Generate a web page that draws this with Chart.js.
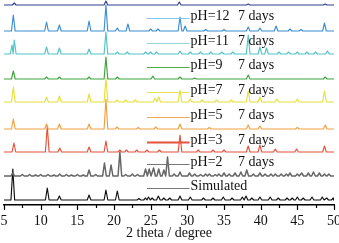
<!DOCTYPE html>
<html>
<head>
<meta charset="utf-8">
<script src="https://cdn.jsdelivr.net/npm/chart.js@4.4.1/dist/chart.umd.min.js"></script>
<style>
  html, body { margin: 0; padding: 0; background: #fff; }
  #wrap { width: 339px; height: 243px; }
</style>
</head>
<body>
<div id="wrap"><canvas id="xrdChart"></canvas></div>
<script>
// Trace names, top to bottom (the top navy trace has no legend entry)
const traceNames = ["", "pH=12", "pH=11", "pH=9", "pH=7", "pH=5", "pH=3", "pH=2", "Simulated"];
const traceDays = ["", "7 days", "7 days", "7 days", "7 days", "7 days", "7 days", "7 days", ""];
// Vertical stacking offset of each trace (arbitrary intensity units)
const traceOffsets = [200, 174, 151, 126, 103, 76, 53, 29, 5];

// Peaks: [2 theta, height above the trace baseline]
const peaksTop = [[6.4, 2], [18.9, 4], [28.9, 3], [38.3, 1], [48.8, 1]];
const peaksPH12 = [[6.27, 16], [10.8, 9], [12.55, 6], [16.6, 10], [18.9, 26], [20.45, 3], [21.9, 7],
  [25.0, 2], [26.0, 2], [29.0, 14], [29.7, 5], [32.5, 1.5], [35.0, 1.5], [38.3, 4], [39.9, 3],
  [42.1, 5], [44.0, 2], [45.5, 1.5], [48.7, 8]];
const peaksPH11 = [[6.1, 9], [6.4, 14], [10.8, 7], [12.55, 6], [16.6, 5], [18.9, 22], [20.45, 2],
  [21.8, 2], [24.3, 2], [25.0, 2], [25.8, 2], [29.0, 3], [30.4, 2], [31.8, 2], [33.2, 2], [34.7, 2],
  [36.2, 2], [38.3, 19], [39.9, 7], [40.8, 6], [42.5, 2], [43.8, 2], [45.0, 2], [46.3, 2], [47.5, 2], [49.1, 3]];
const peaksPH9 = [[6.27, 8], [10.8, 2], [12.55, 2], [16.6, 2], [18.9, 22], [20.45, 2], [25.3, 3],
  [29.0, 2], [31.0, 1], [38.3, 4], [48.8, 2]];
const peaksPH7 = [[6.27, 15], [10.8, 5], [12.55, 6], [16.6, 8], [18.9, 24], [20.4, 2], [21.6, 2],
  [22.9, 2], [25.6, 4], [26.1, 5], [29.0, 12], [30.4, 3], [32.0, 2], [34.0, 2], [36.0, 2],
  [38.3, 11], [39.9, 5], [42.2, 3], [45.0, 3], [48.7, 11]];
const peaksPH5 = [[6.27, 10], [10.8, 5], [12.55, 5], [16.6, 5], [18.9, 30], [20.4, 2], [23.3, 1.5],
  [25.7, 2], [29.0, 5], [33.0, 1.5], [38.3, 4], [39.9, 3], [45.0, 1.5], [48.8, 4]];
const peaksPH3 = [[6.35, 9], [10.9, 26], [12.6, 4], [16.6, 5], [18.9, 11], [20.8, 2], [21.7, 2],
  [23.1, 2], [24.5, 2], [26.2, 2], [29.0, 17], [31.5, 2], [33.5, 2], [35.0, 2], [38.3, 6],
  [39.9, 7], [42.0, 3], [44.9, 3], [48.7, 6]];
const peaksPH2 = [[6.2, 3], [7.5, 1.5], [8.5, 1.5], [9.3, 1], [10.0, 1.5], [11.0, 1.5], [11.8, 1],
  [12.6, 2], [13.5, 1.5], [14.2, 1], [15.0, 1.5], [15.8, 1], [16.6, 6], [17.5, 1.5], [18.7, 13],
  [19.6, 11], [20.8, 24], [21.6, 1.5], [22.5, 2], [23.2, 1.5], [24.3, 7], [24.8, 7], [25.4, 8],
  [26.1, 7], [26.8, 6], [27.3, 19], [28.2, 2], [29.0, 4], [30.3, 3], [31.0, 2], [31.8, 1.5],
  [32.5, 2], [33.0, 2], [33.8, 1.5], [34.3, 2], [35.0, 3], [35.7, 2], [36.5, 3], [37.3, 4],
  [38.1, 6], [39.0, 2], [39.9, 3], [40.6, 2], [41.4, 2], [42.0, 2], [42.8, 2], [43.5, 2],
  [44.0, 3], [45.0, 2], [45.6, 3], [46.5, 3], [47.2, 4], [48.0, 3], [48.7, 2], [49.3, 2]];
const peaksSim = [[6.2, 31], [10.9, 12], [12.55, 4], [16.6, 5], [18.9, 10], [20.45, 9], [23.4, 1.5],
  [24.3, 2], [24.7, 3], [25.2, 2], [26.05, 4], [26.8, 2], [27.6, 2], [29.0, 4], [30.4, 3], [32.2, 2],
  [33.5, 2], [34.9, 3], [36.1, 2], [37.5, 3], [38.0, 4], [38.8, 2], [39.9, 3], [41.3, 3], [42.4, 2],
  [43.6, 2], [44.3, 2], [45.0, 3], [45.8, 2], [47.0, 3], [48.4, 3], [49.0, 2], [49.9, 2]];

const tracePeaks = [peaksTop, peaksPH12, peaksPH11, peaksPH9, peaksPH7, peaksPH5, peaksPH3, peaksPH2, peaksSim];
const xTicks = [5, 10, 15, 20, 25, 30, 35, 40, 45, 50];

const traceColors = ['#2f3d8f', '#3b8ed2', '#52c3c6', '#3da43c', '#e5e03a', '#f2a03e', '#e4533a', '#666666', '#111111'];
const legendColors = ['', '#7cc8ee', '#8fd6d8', '#4cae44', '#e8e24a', '#f0a850', '#e4533a', '#777777', '#777777'];
const legendY = [0, 186.5, 161.5, 137.5, 112.5, 88.5, 63.5, 41.5, 17.5];

const halfWidth = 0.25;   // drawn half width of a peak foot, degrees

// turn a peak list into a spiky line sitting on its baseline
function buildTrace(peaks, offset) {
  const pts = [{ x: 5, y: offset }];
  peaks.forEach((p, i) => {
    const prev = i > 0 ? peaks[i - 1][0] : 5;
    const next = i < peaks.length - 1 ? peaks[i + 1][0] : 50;
    const left = Math.max(p[0] - halfWidth, (prev + p[0]) / 2);
    const right = Math.min(p[0] + halfWidth, (next + p[0]) / 2);
    pts.push({ x: left, y: offset }, { x: p[0], y: offset + p[1] }, { x: right, y: offset });
  });
  pts.push({ x: 50, y: offset });
  return pts;
}

const serif = "'Liberation Serif', 'Times New Roman', serif";

// short minor ticks, longer major ticks, below the axis line
const tickMarks = {
  id: 'tickMarks',
  afterDraw(chart) {
    const ctx = chart.ctx;
    const xs = chart.scales.x;
    const y0 = chart.chartArea.bottom;
    ctx.save();
    ctx.strokeStyle = '#000';
    ctx.lineWidth = 1.2;
    xs.ticks.forEach(t => {
      const px = Math.round(xs.getPixelForValue(t.value)) + 0.5;
      const len = xTicks.includes(t.value) ? 5 : 3;
      ctx.beginPath();
      ctx.moveTo(px, y0);
      ctx.lineTo(px, y0 + len);
      ctx.stroke();
    });
    ctx.restore();
  }
};

// legend entries sitting between the stacked traces
const stackLegend = {
  id: 'stackLegend',
  afterDatasetsDraw(chart) {
    const ctx = chart.ctx;
    const xs = chart.scales.x, ys = chart.scales.y;
    ctx.save();
    ctx.font = '14px ' + serif;
    ctx.textBaseline = 'alphabetic';
    ctx.fillStyle = '#111';
    traceNames.forEach((name, i) => {
      if (!name) return;
      const py = Math.round(ys.getPixelForValue(legendY[i])) + 0.5;
      const x1 = xs.getPixelForValue(24.5), x2 = xs.getPixelForValue(30.3);
      ctx.strokeStyle = legendColors[i];
      ctx.lineWidth = name === 'pH=3' ? 1.8 : 1.2;
      ctx.beginPath();
      ctx.moveTo(x1, py);
      ctx.lineTo(x2, py);
      ctx.stroke();
      ctx.fillText(name, x2 + 1, py + 1.5);
      if (traceDays[i]) ctx.fillText(traceDays[i], xs.getPixelForValue(36.9), py + 1.5);
    });
    ctx.restore();
  }
};

const ctxXrd = document.getElementById('xrdChart').getContext('2d');
const xrdChart = new Chart(ctxXrd, {
  type: 'line',
  data: {
    datasets: tracePeaks.map((pk, i) => ({
      label: traceNames[i] || 'top',
      data: buildTrace(pk, traceOffsets[i]),
      borderColor: traceColors[i],
      borderWidth: i === 7 ? 1.5 : 1.15,
      borderJoinStyle: 'round',
      pointRadius: 0,
      tension: 0,
      fill: false
    }))
  },
  options: {
    responsive: true,
    maintainAspectRatio: false,
    animation: false,
    events: [],
    layout: { padding: { left: 4, right: 5, top: 0, bottom: 0 } },
    plugins: { legend: { display: false }, tooltip: { enabled: false } },
    scales: {
      x: {
        type: 'linear',
        min: 5,
        max: 50,
        grid: { drawOnChartArea: false, drawTicks: true, tickLength: 5, tickColor: 'rgba(0,0,0,0)' },
        border: { display: true, color: '#000', width: 1.5 },
        ticks: {
          stepSize: 2.5,
          autoSkip: false,
          maxRotation: 0,
          padding: 3,
          color: '#111',
          font: { family: serif, size: 14 },
          callback: v => (xTicks.includes(v) ? String(v) : '')
        },
        title: {
          display: true,
          text: '2 theta / degree',
          color: '#111',
          font: { family: serif, size: 14 },
          padding: { top: 0, bottom: 1 }
        },
        afterFit: s => { s.paddingLeft = 0; s.paddingRight = 0; s.height = 38; }
      },
      y: { display: false, min: 0, max: 205 }
    }
  },
  plugins: [tickMarks, stackLegend]
});
</script>
</body>
</html>
